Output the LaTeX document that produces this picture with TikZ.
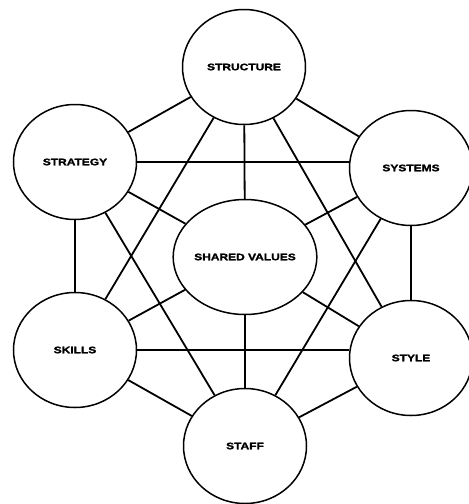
\documentclass[tikz,border=0pt]{standalone}
\usepackage{fontspec}
\setmainfont{Liberation Sans}
\newfontfamily\heavyfont[FakeBold=1.5]{Liberation Sans Bold}
\usetikzlibrary{shapes.geometric}
\newcommand{\sslbl}[1]{\scalebox{1.26}[1]{#1}}
\begin{document}
\begin{tikzpicture}[x=1pt,y=-1pt,
  sbox/.style={ellipse,draw,line width=1.5pt,minimum width=123pt,minimum height=115pt,inner sep=0pt,
    font=\heavyfont\bfseries\fontsize{9.5}{10}\selectfont},
  link/.style={line width=1.8pt}]
\useasboundingbox (0,0) rectangle (469,504);
\node[sbox] (structure) at (244,67) {\sslbl{STRUCTURE}};
\node[sbox] (strategy) at (75,162) {\sslbl{STRATEGY}};
\node[sbox] (systems) at (411,168) {\sslbl{SYSTEMS}};
\node[sbox] (shared) at (245,257) {\sslbl{SHARED VALUES}};
\node[sbox] (skills) at (75,350) {\sslbl{SKILLS}};
\node[sbox] (style) at (411,358) {\sslbl{STYLE}};
\node[sbox] (staff) at (245,446) {\sslbl{STAFF}};
% outer ring
\draw[link] (structure) -- (strategy);
\draw[link] (structure) -- (systems);
\draw[link] (strategy) -- (skills);
\draw[link] (systems) -- (style);
\draw[link] (skills) -- (staff);
\draw[link] (style) -- (staff);
% shared values spokes
\foreach \n in {structure,strategy,systems,skills,style,staff}
  \draw[link] (shared) -- (\n);
% chords
\draw[link] (strategy.east) -- (strategy.east -| systems.west);
\draw[link] (skills.east) -- (skills.east -| style.west);
\draw[link] (structure) -- (skills);
\draw[link] (structure) -- (style);
\draw[link] (strategy) -- (staff);
\draw[link] (systems) -- (staff);
\end{tikzpicture}
\end{document}
